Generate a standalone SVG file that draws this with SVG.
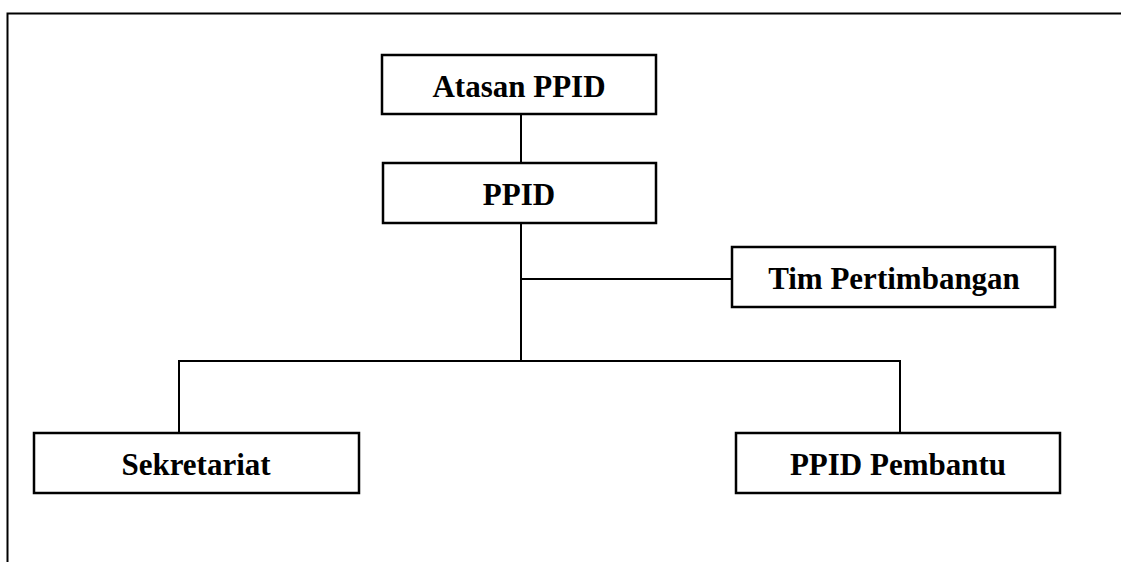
<svg xmlns="http://www.w3.org/2000/svg" width="1121" height="562" viewBox="0 0 1121 562">
  <style>
    .box { fill: #ffffff; stroke: #000000; stroke-width: 2.5; }
    .label { font-family: "Liberation Serif", "Times New Roman", serif; font-weight: bold; font-size: 31px; fill: #000000; text-anchor: middle; }
    .wire { fill: none; stroke: #000000; stroke-width: 2; }
    .frame { fill: none; stroke: #000000; stroke-width: 2; }
  </style>
  <rect width="1121" height="562" fill="#ffffff"/>

  <!-- page frame: top and left edges -->
  <path class="frame" d="M7.5 562 V13.5 H1121"/>

  <!-- connectors -->
  <g id="connectors">
    <line class="wire" x1="521" y1="114" x2="521" y2="163"/>
    <line class="wire" x1="521" y1="223" x2="521" y2="361"/>
    <line class="wire" x1="521" y1="279" x2="732" y2="279"/>
    <path class="wire" d="M179 433 V361 H900 V433"/>
  </g>

  <g id="atasan-ppid">
    <rect class="box" x="382" y="55" width="274" height="59"/>
    <text class="label" x="519" y="97">Atasan PPID</text>
  </g>

  <g id="ppid">
    <rect class="box" x="383" y="163" width="273" height="60"/>
    <text class="label" x="519" y="205">PPID</text>
  </g>

  <g id="tim-pertimbangan">
    <rect class="box" x="732" y="247" width="323" height="60"/>
    <text class="label" x="894" y="289">Tim Pertimbangan</text>
  </g>

  <g id="sekretariat">
    <rect class="box" x="34" y="433" width="325" height="60"/>
    <text class="label" x="196" y="475">Sekretariat</text>
  </g>

  <g id="ppid-pembantu">
    <rect class="box" x="736" y="433" width="324" height="60"/>
    <text class="label" x="898" y="475">PPID Pembantu</text>
  </g>
</svg>
